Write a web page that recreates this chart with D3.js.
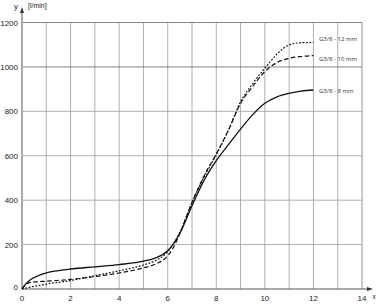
<!DOCTYPE html>
<html><head><meta charset="utf-8">
<script src="https://cdn.jsdelivr.net/npm/d3@7"></script>
<style>body{margin:0;background:#fff}svg{display:block}</style>
</head><body>
<script>
const xTicks = [0,2,4,6,8,10,12,14];
const yTicks = [0,200,400,600,800,1000,1200];
const seriesNames = ["G3/8 - 12 mm","G3/8 - 10 mm","G3/8 - 8 mm"];
const x12 = [0,0.5,1,2,3,4,5,5.5,6,6.5,7,7.5,8,8.5,9,9.5,10,10.5,11,11.5,12];
const y12 = [0,12,22,38,60,82,108,128,168,255,390,505,605,715,843,925,994,1058,1099,1109,1110];
const x10 = [0,0.2,0.5,1,2,3,4,5,5.5,5.9,6.2,6.5,7,7.5,8,8.5,9,9.5,10,10.5,11,11.5,12];
const y10 = [0,25,32,35,43,56,72,95,112,138,180,250,390,510,608,715,836,912,979,1020,1039,1047,1051];
const x8 = [0,0.15,0.33,0.5,0.75,1,1.5,2,3,4,5,5.5,6,6.5,7,7.5,8,8.5,9,9.5,10,10.5,11,11.5,12];
const y8 = [0,22,41,52,64,73,83,90,100,110,125,140,172,251,375,490,578,650,720,785,836,865,881,891,896];

const W=376,H=304;
const svg=d3.select("body").append("svg").attr("width",W).attr("height",H);
const x=d3.scaleLinear().domain([0,14]).range([22,362]);
const y=d3.scaleLinear().domain([0,1200]).range([289,22.5]);

// grid
svg.append("g").selectAll("line").data(d3.range(1,15)).join("line")
  .attr("x1",d=>x(d)).attr("x2",d=>x(d)).attr("y1",y(1200)).attr("y2",y(0))
  .attr("stroke",d=>d===14?"#777":"#9a9a9a").attr("stroke-width",0.8);
svg.append("g").selectAll("line").data(yTicks.slice(1)).join("line")
  .attr("x1",x(0)).attr("x2",x(14)).attr("y1",d=>y(d)).attr("y2",d=>y(d))
  .attr("stroke",d=>d>=1000?"#666":"#9a9a9a").attr("stroke-width",0.8);

// x axis
svg.append("line").attr("x1",x(0)).attr("x2",370).attr("y1",y(0)).attr("y2",y(0))
  .attr("stroke","#555").attr("stroke-width",1);
svg.append("path").attr("d",`M373,${y(0)} L367,${y(0)-2} L367,${y(0)+2} Z`).attr("fill","#333");
// y axis
svg.append("line").attr("x1",x(0)).attr("x2",x(0)).attr("y1",y(0)).attr("y2",12)
  .attr("stroke","#aaa").attr("stroke-width",2);
svg.append("path").attr("d",`M${x(0)},7 L${x(0)-2},13 L${x(0)+2},13 Z`).attr("fill","#333");

const font="Liberation Sans, Arial, sans-serif";
svg.append("g").selectAll("text").data(xTicks).join("text")
  .attr("x",d=>x(d)).attr("y",301).attr("text-anchor","middle")
  .attr("font-family",font).attr("font-size",8).attr("fill","#222").text(d=>d);
svg.append("g").selectAll("text").data(yTicks).join("text")
  .attr("x",18).attr("y",d=>y(d)+(d===0?1:3)).attr("text-anchor","end")
  .attr("font-family",font).attr("font-size",8).attr("fill","#222").text(d=>d);
svg.append("text").attr("x",374).attr("y",299).attr("text-anchor","middle")
  .attr("font-family",font).attr("font-size",6.5).attr("fill","#222").text("x");
svg.append("text").attr("x",16).attr("y",9).attr("text-anchor","middle")
  .attr("font-family",font).attr("font-size",8).attr("fill","#222").text("y");
svg.append("text").attr("x",28).attr("y",8)
  .attr("font-family",font).attr("font-size",7).attr("fill","#222").text("[l/min]");

// curves
const line=d3.line().x(d=>x(d[0])).y(d=>y(d[1])).curve(d3.curveMonotoneX);
const series=[
  {xs:x12,ys:y12,dash:"1.8,1.6",w:1.2,ly:38.5},
  {xs:x10,ys:y10,dash:"4.5,2.5",w:1.2,ly:58.5},
  {xs:x8,ys:y8,dash:null,w:1.3,ly:91}
];
series.forEach((s,i)=>{
  svg.append("path").datum(s.xs.map((v,j)=>[v,s.ys[j]]))
    .attr("d",line).attr("fill","none").attr("stroke","#111")
    .attr("stroke-width",s.w).attr("stroke-dasharray",s.dash);
  svg.append("text").attr("x",319).attr("y",s.ly+2)
    .attr("font-family","Open Sans, sans-serif").attr("font-size",6).attr("fill","#333")
    .text(seriesNames[i]);
});
</script>
</body></html>
